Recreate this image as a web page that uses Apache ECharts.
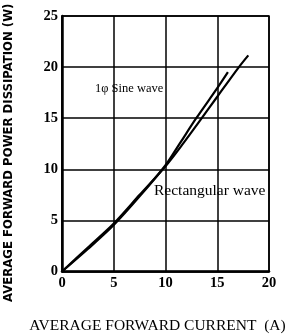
<!DOCTYPE html>
<html>
<head>
<meta charset="utf-8">
<script src="https://cdn.jsdelivr.net/npm/echarts@6/dist/echarts.min.js"></script>
<style>html,body{margin:0;padding:0;background:#fff}#c{width:287px;height:334px}</style>
</head>
<body>
<div id="c"></div>
<script>
var sineX = [0, 2.5, 5, 7.5, 10, 11.4, 12.97, 15, 16.03];
var sineY = [0, 2.2, 4.55, 7.35, 10.4, 12.56, 15, 17.94, 19.5];
var rectX = [0, 2.5, 5, 7.5, 10, 11.73, 13.5, 15, 17.09, 18];
var rectY = [0, 2.35, 4.7, 7.5, 10.3, 12.56, 15, 17.1, 20, 21.15];
var xTicks = [0, 5, 10, 15, 20];
var yTicks = [0, 5, 10, 15, 20, 25];
var sineLabel = '1\u03c6 Sine wave';
var rectLabel = 'Rectangular wave';
var xName = 'AVERAGE FORWARD CURRENT  (A)';
var yName = 'AVERAGE FORWARD POWER DISSIPATION (W)';

function pairs(xs, ys){ return xs.map(function(x,i){ return [x, ys[i]]; }); }

var chart = echarts.init(document.getElementById('c'), null, {renderer:'canvas'});
var serif = '"Liberation Serif", "DejaVu Serif", serif';
chart.setOption({
  animation: false,
  backgroundColor: '#fff',
  grid: {left: 62, right: 18, top: 16, bottom: 62.5, show: true, borderColor: '#000', borderWidth: 1.5,
         containLabel: false, outerBoundsMode: 'none'},
  xAxis: {
    type: 'value', min: xTicks[0], max: xTicks[xTicks.length-1], interval: 5,
    name: xName, nameLocation: 'middle', nameGap: 46,
    nameTextStyle: {fontFamily: serif, fontSize: 15.5, color: '#000', padding: [0, 16, 0, 0]},
    axisLine: {show: true, lineStyle: {color: '#000', width: 2.5}},
    axisTick: {show: false},
    axisLabel: {fontFamily: serif, fontSize: 14.5, fontWeight: 'bold', color: '#000', margin: 4},
    splitLine: {show: true, lineStyle: {color: '#000', width: 1.5}}
  },
  yAxis: {
    type: 'value', min: yTicks[0], max: yTicks[yTicks.length-1], interval: 5,
    name: yName, nameLocation: 'middle', nameGap: 47, nameRotate: 90,
    nameTextStyle: {fontFamily: '"DejaVu Sans Condensed", "DejaVu Sans", sans-serif', fontSize: 13, fontWeight: 'bold', color: '#000', padding: [0, 18, 0, 0]},
    axisLine: {show: true, lineStyle: {color: '#000', width: 2.5}},
    axisTick: {show: false},
    axisLabel: {fontFamily: serif, fontSize: 14.5, fontWeight: 'bold', color: '#000', margin: 4},
    splitLine: {show: true, lineStyle: {color: '#000', width: 1.5}}
  },
  series: [
    {type: 'line', name: 'sine', data: pairs(sineX, sineY), smooth: 0.3, showSymbol: false, symbol: 'none',
     lineStyle: {color: '#000', width: 2.2}},
    {type: 'line', name: 'rect', data: pairs(rectX, rectY), smooth: 0.3, showSymbol: false, symbol: 'none',
     lineStyle: {color: '#000', width: 2.2}}
  ],
  graphic: [
    {type: 'text', left: 95, top: 82, style: {text: sineLabel, font: '12.5px ' + serif, fill: '#000'}},
    {type: 'text', left: 154, top: 183, style: {text: rectLabel, font: '15.5px ' + serif, fill: '#000'}}
  ]
});
</script>
</body>
</html>
